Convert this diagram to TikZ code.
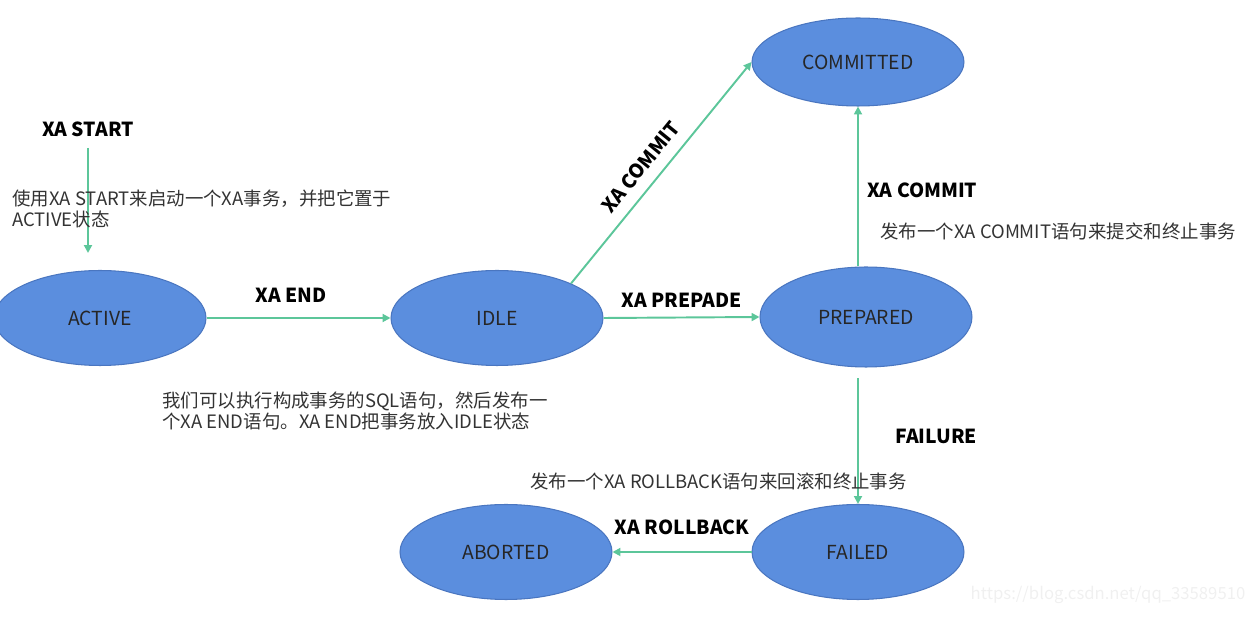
\documentclass[tikz,border=0pt]{standalone}
\usepackage{fontspec}
\setmainfont{Noto Sans CJK SC}
\usetikzlibrary{arrows.meta,shapes.geometric}
\definecolor{StateBlue}{HTML}{5B8EDE}
\definecolor{StateEdge}{HTML}{4A76C0}
\definecolor{Mint}{HTML}{5CC69A}
\definecolor{Note}{HTML}{333333}
\definecolor{Mark}{HTML}{F0F0F0}

\begin{document}
\begin{tikzpicture}[x=0.02cm,y=-0.02cm,
  state/.style={ellipse,draw=StateEdge,fill=StateBlue,line width=0.6pt,
    minimum width=4.24cm,minimum height=1.9cm,text=black!85,
    font=\fontsize{11}{13}\selectfont},
  trans/.style={Mint,line width=1.1pt,-{Triangle[length=4.5pt,width=4.5pt]}},
  act/.style={font=\fontsize{11}{13}\selectfont\bfseries,text=black},
  note/.style={font=\fontsize{10.5}{12}\selectfont,text=Note,align=left,
    anchor=west,inner sep=0pt}]
  \useasboundingbox (0,0) rectangle (1255,634);
  % states
  \node[state] (active) at (100,318) {ACTIVE};
  \node[state] (idle) at (497,318) {IDLE};
  \node[state,minimum height=2cm] (prepared) at (866,317) {PREPARED};
  \node[state,minimum height=1.76cm] (committed) at (858,62) {COMMITTED};
  \node[state] (failed) at (858,552) {FAILED};
  \node[state] (aborted) at (506,552) {ABORTED};
  % start of a transaction
  \node[act] (xastart) at (88,129) {XA START};
  \coordinate (activetop) at (88,253);
  \draw[trans,shorten <=3pt] (xastart.south) -- (activetop);
  \node[note] (startnote) at (12,208.5) {使用XA START来启动一个XA事务，并把它置于\\ACTIVE状态};
  % transitions
  \draw[trans] (active.east) -- (idle.west)
    node[act,pos=0.46,above=5pt] {XA END};
  \draw[trans] (idle.east) -- (prepared.west)
    node[act,midway,above=2pt] {XA PREPADE};
  \draw[trans] (idle.25) -- (committed.west)
    node[act,pos=0.47,sloped,above=3pt] {XA COMMIT};
  \draw[trans] (prepared.north -| committed.south) -- (committed.south);
  \draw[trans,shorten <=6pt] (failed.north |- prepared.south) -- (failed.north);
  \draw[trans] (failed.west) -- (aborted.east)
    node[act,midway,above=6pt] {XA ROLLBACK};
  % labels and notes
  \node[note] (endnote) at (162,411) {我们可以执行构成事务的SQL语句，然后发布一\\个XA END语句。XA END把事务放入IDLE状态};
  \node[act,anchor=west,inner sep=0pt] (commitlabel) at (867,190) {XA COMMIT};
  \node[note] (commitnote) at (880,231) {发布一个XA COMMIT语句来提交和终止事务};
  \node[act,anchor=west,inner sep=0pt] (failurelabel) at (895,436) {FAILURE};
  \node[note] (rollbacknote) at (530,481) {发布一个XA ROLLBACK语句来回滚和终止事务};
  \node[font=\fontsize{9.5}{11}\selectfont,text=Mark] (mark) at (1108,595) {https://blog.csdn.net/qq\_33589510};
\end{tikzpicture}
\end{document}
